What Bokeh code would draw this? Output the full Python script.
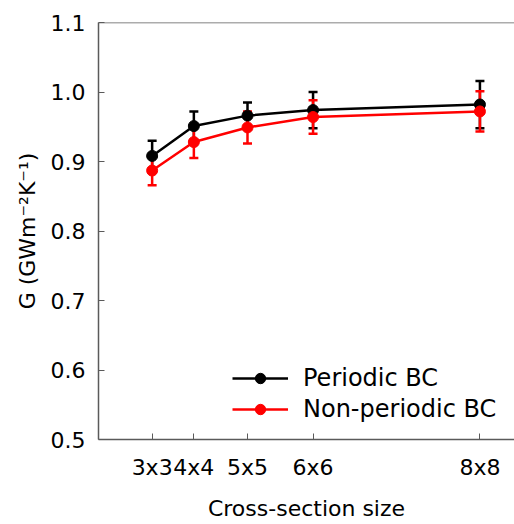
from bokeh.plotting import figure
from bokeh.models import (ColumnDataSource, Whisker, TeeHead, FixedTicker, Legend,
                          LegendItem, Span, Range1d)
from bokeh.embed import file_html
from bokeh.resources import INLINE

# data
sizes = ["3x3", "4x4", "5x5", "6x6", "8x8"]
area = [9, 16, 25, 36, 64]
periodic = [0.908, 0.951, 0.966, 0.974, 0.982]
periodic_err = [0.022, 0.021, 0.019, 0.026, 0.034]
nonperiodic = [0.887, 0.928, 0.949, 0.964, 0.972]
nonperiodic_err = [0.021, 0.023, 0.023, 0.024, 0.029]
y_ticks = [0.5, 0.6, 0.7, 0.8, 0.9, 1.0, 1.1]
y_tick_labels = ["0.5", "0.6", "0.7", "0.8", "0.9", "1.0", "1.1"]

FONT = "DejaVu Sans"
AX = "#5a5a5a"

p = figure(width=514, height=524, output_backend="svg", toolbar_location=None,
           x_range=Range1d(0, 69.8), y_range=Range1d(0.5, 1.1),
           min_border_left=98, min_border_right=0, min_border_top=22,
           min_border_bottom=85)
p.outline_line_color = None
p.grid.visible = False
p.background_fill_color = "white"
p.border_fill_color = "white"

def add_series(vals, errs, color):
    src = ColumnDataSource(dict(x=area, y=vals,
                                lo=[v - e for v, e in zip(vals, errs)],
                                hi=[v + e for v, e in zip(vals, errs)]))
    w = Whisker(source=src, base="x", lower="lo", upper="hi",
                line_color=color, line_width=2.5,
                upper_head=TeeHead(size=9, line_color=color, line_width=2.5),
                lower_head=TeeHead(size=9, line_color=color, line_width=2.5))
    p.add_layout(w)
    ln = p.line("x", "y", source=src, line_color=color, line_width=2.5)
    sc = p.scatter("x", "y", source=src, size=11, fill_color=color, line_color=color)
    return ln, sc

l1, s1 = add_series(periodic, periodic_err, "black")
l2, s2 = add_series(nonperiodic, nonperiodic_err, "#ff0000")

p.add_layout(Span(location=1.1, dimension="width", line_color=AX, line_width=1.5))

xa = p.xaxis[0]
xa.ticker = FixedTicker(ticks=area)
xa.major_label_overrides = {a: s for a, s in zip(area, sizes)}
xa.minor_tick_line_color = None
xa.major_tick_in = 6
xa.major_tick_out = 0
xa.axis_line_color = AX
xa.major_tick_line_color = AX
xa.axis_line_width = 1.5
xa.major_label_standoff = 15
xa.axis_label = "Cross-section size"
xa.axis_label_standoff = 13

ya = p.yaxis[0]
ya.ticker = FixedTicker(ticks=y_ticks)
ya.major_label_overrides = {t: s for t, s in zip(y_ticks, y_tick_labels)}
ya.minor_tick_line_color = None
ya.major_tick_in = 6
ya.major_tick_out = 0
ya.axis_line_color = AX
ya.major_tick_line_color = AX
ya.axis_line_width = 1.5
ya.major_label_standoff = 13
ya.axis_label = "G (GWm\u207b\u00b2K\u207b\u00b9)"
ya.axis_label_standoff = 8

for ax in (xa, ya):
    ax.major_label_text_font = FONT
    ax.major_label_text_font_size = "22px"
    ax.major_label_text_color = "black"
    ax.axis_label_text_font = FONT
    ax.axis_label_text_font_size = "22px"
    ax.axis_label_text_font_style = "normal"
    ax.axis_label_text_color = "black"

legend = Legend(items=[LegendItem(label="Periodic BC", renderers=[l1, s1]),
                       LegendItem(label="Non-periodic BC", renderers=[l2, s2])],
                location=(134, 16), border_line_color=None,
                background_fill_alpha=0, glyph_width=56, glyph_height=26,
                label_height=26, spacing=3, label_standoff=15, padding=10,
                label_text_font=FONT, label_text_font_size="24px",
                label_text_color="black")
p.add_layout(legend)

open("out.html", "w").write(file_html(p, INLINE))
